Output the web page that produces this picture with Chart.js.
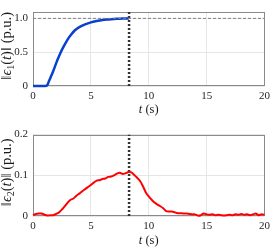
<!DOCTYPE html>
<html><head><meta charset="utf-8">
<script src="https://cdn.jsdelivr.net/npm/chart.js@4/dist/chart.umd.min.js"></script>
<style>
html,body{margin:0;padding:0;background:#fff;}
#w1{position:absolute;left:0;top:0;width:274px;height:123px;}
#w2{position:absolute;left:0;top:123px;width:274px;height:124px;}
</style></head><body>
<div id="w1"><canvas id="c1"></canvas></div>
<div id="w2"><canvas id="c2"></canvas></div>
<script>
// ---- data ----
const t1 = [0, 0.5, 1.0, 1.2, 1.35, 1.5, 1.7, 1.9, 2.1, 2.4, 2.7, 3.0, 3.3, 3.6, 4.0, 4.5, 5.0, 5.5, 6.0, 6.5, 7.0, 7.5, 8.0, 8.3];
const e1 = [0, 0, 0, 0.005, 0.06, 0.12, 0.2, 0.29, 0.38, 0.5, 0.6, 0.69, 0.76, 0.82, 0.87, 0.91, 0.94, 0.96, 0.975, 0.983, 0.99, 0.995, 0.998, 1.0];
const t2 = [0,0.25,0.5,0.75,1,1.25,1.5,1.75,2,2.25,2.5,2.75,3,3.25,3.5,3.75,4,4.25,4.5,4.75,5,5.25,5.5,5.75,6,6.25,6.5,6.75,7,7.25,7.5,7.75,8,8.25,8.5,8.75,9,9.25,9.5,9.75,10,10.25,10.5,10.75,11,11.25,11.5,11.75,12,12.25,12.5,12.75,13,13.25,13.5,13.75,14,14.25,14.5,14.75,15,15.25,15.5,15.75,16,16.25,16.5,16.75,17,17.25,17.5,17.75,18,18.25,18.5,18.75,19,19.25,19.5,19.75,20];
const e2 = [0.002,0.005,0.006,0.006,0.003,0.001,0.002,0.002,0.005,0.009,0.016,0.024,0.033,0.040,0.043,0.050,0.055,0.061,0.066,0.071,0.076,0.082,0.087,0.088,0.091,0.092,0.096,0.097,0.100,0.104,0.106,0.103,0.105,0.108,0.107,0.101,0.094,0.086,0.073,0.058,0.048,0.040,0.033,0.028,0.024,0.019,0.012,0.011,0.011,0.009,0.007,0.007,0.006,0.006,0.005,0.004,0.004,0.001,0.002,0.006,0.004,0.003,0.004,0.002,0.003,0.002,0.001,0.002,0.003,0.002,0.004,0.003,0.005,0.003,0.004,0.002,0.004,0.006,0.002,0.004,0.003];
const tSwitch = 8.3;
const refLevel = 1;
const xTicks = [0, 5, 10, 15, 20];
const yTicks1 = [0, 0.5, 1];
const yTicks2 = [0, 0.1, 0.2];

const FONT = "'Liberation Serif','DejaVu Serif',serif";

function segFont(s, size){
  const sz = s.sub ? Math.round(size*0.7) : size;
  return (s.i ? 'italic ' : '') + sz + 'px ' + FONT;
}
function drawRich(ctx, segs, cx, cy, size){
  let w = 0;
  segs.forEach(s => { ctx.font = segFont(s, size); s.w = ctx.measureText(s.t).width; w += s.w; });
  let x = cx - w/2;
  ctx.textBaseline = 'middle'; ctx.textAlign = 'left'; ctx.fillStyle = '#1a1a1a';
  segs.forEach(s => { ctx.font = segFont(s, size); ctx.fillText(s.t, x, cy + (s.sub ? size*0.3 : 0)); x += s.w; });
}
const richTitles = {
  id: 'richTitles',
  afterDraw(chart, args, o){
    const ctx = chart.ctx, a = chart.chartArea;
    ctx.save();
    drawRich(ctx, o.x, (a.left + a.right)/2, o.xY, 12.5);
    ctx.translate(o.yX, (a.top + a.bottom)/2 - 3);
    ctx.rotate(-Math.PI/2);
    drawRich(ctx, o.y, 0, 0, 14.5);
    ctx.restore();
  }
};
const boxPlugin = {
  id: 'box',
  beforeDatasetsDraw(chart){
    const ctx = chart.ctx, a = chart.chartArea;
    ctx.save(); ctx.strokeStyle = '#8a8a8a'; ctx.lineWidth = 1;
    ctx.strokeRect(Math.round(a.left)+0.5, Math.round(a.top)+0.5, Math.round(a.right-a.left)-1, Math.round(a.bottom-a.top)-1);
    ctx.restore();
  }
};

function makeChart(id, cfg){
  const pts = cfg.xs.map((x, i) => ({x: x, y: cfg.ys[i]}));
  const datasets = [];
  if (cfg.ref) datasets.push({data: [{x: 0, y: refLevel}, {x: 20, y: refLevel}], borderColor: '#808080', borderWidth: 1, borderDash: [3, 2], pointRadius: 0});
  datasets.push({data: pts, borderColor: cfg.color, borderWidth: cfg.lw, pointRadius: 0, tension: 0.25, clip: 3});
  datasets.push({data: [{x: tSwitch, y: cfg.ymin}, {x: tSwitch, y: cfg.ymax}], borderColor: '#333', borderWidth: 2.5, borderDash: [2, 2], pointRadius: 0});
  return new Chart(document.getElementById(id), {
    type: 'scatter',
    data: {datasets: datasets},
    options: {
      animation: false, responsive: true, maintainAspectRatio: false,
      showLine: true,
      layout: {padding: {top: cfg.padTop, right: 7, left: 0, bottom: 0}},
      plugins: {legend: {display: false}, tooltip: {enabled: false},
        richTitles: {x: cfg.xTitle, y: cfg.yTitle, xY: cfg.xTitleY, yX: 7}},
      scales: {
        x: {type: 'linear', min: 0, max: 20,
          afterBuildTicks: s => { s.ticks = xTicks.map(v => ({value: v})); },
          afterFit: s => { s.height = cfg.xh; },
          grid: {color: '#e6e6e6', drawTicks: false}, border: {display: false},
          ticks: {padding: 4, color: '#262626', font: {family: FONT, size: 11}, maxRotation: 0}},
        y: {type: 'linear', min: cfg.ymin, max: cfg.ymax,
          afterBuildTicks: s => { s.ticks = cfg.yTicks.map(v => ({value: v})); },
          afterFit: s => { s.width = 33; },
          grid: {color: '#e6e6e6', drawTicks: false}, border: {display: false},
          ticks: {padding: 5, color: '#262626', font: {family: FONT, size: 11}}}
      }
    },
    plugins: [richTitles, boxPlugin]
  });
}

const xTitle = [{t: 't', i: true}, {t: ' (s)'}];
makeChart('c1', {xs: t1, ys: e1, color: '#0a3fd0', lw: 2.5, ref: true, ymin: 0, ymax: 1.1, yTicks: yTicks1,
  padTop: 1, xh: 37, xTitleY: 110, xTitle: xTitle,
  yTitle: [{t: '\u2016'}, {t: '\u03F5', i: true}, {t: '1', sub: true}, {t: '('}, {t: 't', i: true}, {t: ')\u2016 (p.u.)'}]});
makeChart('c2', {xs: t2, ys: e2, color: '#ff0000', lw: 2, ref: false, ymin: 0, ymax: 0.2, yTicks: yTicks2,
  padTop: 8, xh: 31, xTitleY: 118, xTitle: xTitle,
  yTitle: [{t: '\u2016'}, {t: '\u03F5', i: true}, {t: '2', sub: true}, {t: '('}, {t: 't', i: true}, {t: ')\u2016 (p.u.)'}]});
</script>
</body></html>
